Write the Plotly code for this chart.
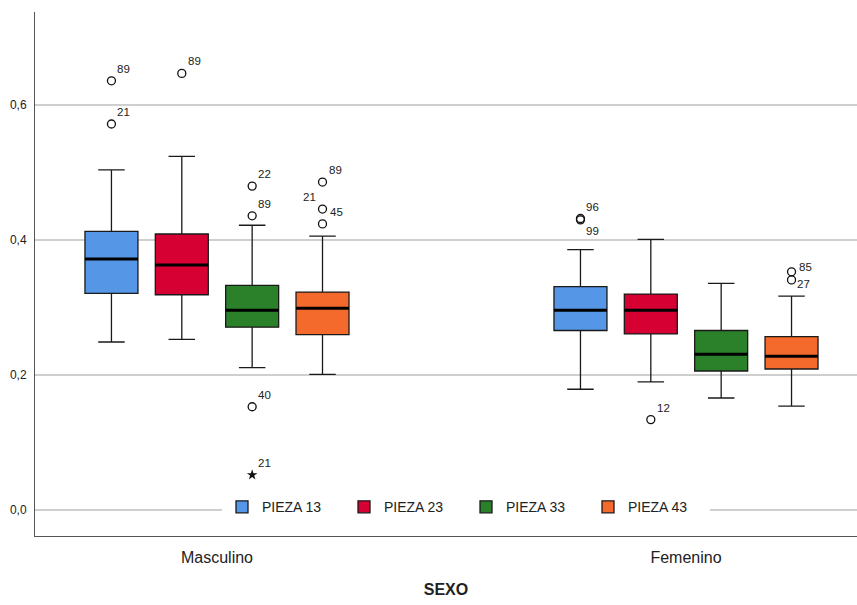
import plotly.graph_objects as go

categories = ["Masculino", "Femenino"]
series = ["PIEZA 13", "PIEZA 23", "PIEZA 33", "PIEZA 43"]
colors = ["#5596E6", "#D60032", "#2A812A", "#F46A2C"]

# statistics [series][category]
lower_whisker = [[0.249, 0.179], [0.253, 0.190], [0.211, 0.166], [0.201, 0.154]]
q1 = [[0.321, 0.266], [0.319, 0.261], [0.271, 0.206], [0.260, 0.209]]
median = [[0.372, 0.296], [0.363, 0.296], [0.296, 0.231], [0.299, 0.228]]
q3 = [[0.413, 0.331], [0.409, 0.320], [0.333, 0.266], [0.323, 0.257]]
upper_whisker = [[0.504, 0.386], [0.524, 0.401], [0.422, 0.336], [0.406, 0.317]]

# outliers (circles)
outlier_series = [0, 0, 1, 2, 2, 2, 3, 3, 3, 0, 0, 1, 3, 3]
outlier_cat = [0, 0, 0, 0, 0, 0, 0, 0, 0, 1, 1, 1, 1, 1]
outlier_val = [0.636, 0.572, 0.647, 0.480, 0.436, 0.153, 0.486, 0.446, 0.424,
               0.432, 0.430, 0.134, 0.353, 0.341]
# extreme values (stars)
extreme_series = [2]
extreme_cat = [0]
extreme_val = [0.052]

# case labels: anchored on the point they belong to
label_series = [0, 0, 1, 2, 2, 2, 2, 3, 3, 3, 0, 0, 1, 3, 3]
label_cat = [0, 0, 0, 0, 0, 0, 0, 0, 0, 0, 1, 1, 1, 1, 1]
label_val = [0.636, 0.572, 0.647, 0.480, 0.436, 0.153, 0.052, 0.486, 0.446, 0.446,
             0.431, 0.431, 0.134, 0.353, 0.341]
label_text = ["89", "21", "89", "22", "89", "40", "21", "89", "21", "45",
              "96", "99", "12", "85", "27"]
label_side = ["up", "up", "up", "up", "up", "up", "up", "up", "upleft", "right",
              "up", "down", "up", "rightup", "rightdown"]

yticks = [0.0, 0.2, 0.4, 0.6]

SLOT = 0.15
BOXW = 0.113
offsets = [(i - (len(series) - 1) / 2) * SLOT for i in range(len(series))]

FONT = "Liberation Sans, Arial, sans-serif"

# placement style of the case labels (pixels)
SIDE_STYLE = {
    "up": dict(xanchor="left", xshift=4, yshift=12),
    "down": dict(xanchor="left", xshift=4, yshift=-12),
    "upleft": dict(xanchor="right", xshift=-5, yshift=12),
    "right": dict(xanchor="left", xshift=5, yshift=-3),
    "rightup": dict(xanchor="left", xshift=5, yshift=5),
    "rightdown": dict(xanchor="left", xshift=3, yshift=-4),
}

fig = go.Figure()

for i, name in enumerate(series):
    xs = [c + offsets[i] for c in range(len(categories))]
    fig.add_trace(go.Box(
        name=name, x=xs,
        q1=q1[i], median=median[i], q3=q3[i],
        lowerfence=lower_whisker[i], upperfence=upper_whisker[i],
        width=BOXW, whiskerwidth=0.5,
        fillcolor=colors[i],
        line=dict(color="#1a1a1a", width=1.3),
        boxpoints=False, hoverinfo="skip",
    ))

# thick median lines
for i, name in enumerate(series):
    mx, my = [], []
    for c in range(len(categories)):
        xc = c + offsets[i]
        mx += [xc - BOXW / 2, xc + BOXW / 2, None]
        my += [median[i][c], median[i][c], None]
    fig.add_trace(go.Scatter(x=mx, y=my, mode="lines",
                             line=dict(color="black", width=3),
                             showlegend=False, hoverinfo="skip"))

fig.add_trace(go.Scatter(
    x=[c + offsets[s] for s, c in zip(outlier_series, outlier_cat)],
    y=outlier_val, mode="markers",
    marker=dict(symbol="circle-open", size=8, color="#111", line=dict(width=1.3)),
    showlegend=False, hoverinfo="skip"))

fig.add_trace(go.Scatter(
    x=[c + offsets[s] for s, c in zip(extreme_series, extreme_cat)],
    y=extreme_val, mode="markers",
    marker=dict(symbol="star", size=8, color="#111"),
    showlegend=False, hoverinfo="skip"))

for s, c, v, t, side in zip(label_series, label_cat, label_val, label_text, label_side):
    fig.add_annotation(x=c + offsets[s], y=v, xref="x", yref="y", text=t,
                       showarrow=False, yanchor="middle",
                       font=dict(family=FONT, size=11.5, color="#222"),
                       **SIDE_STYLE[side])

fig.update_layout(
    width=857, height=605,
    margin=dict(l=35, r=0, t=12, b=69),
    paper_bgcolor="white", plot_bgcolor="white",
    separators=",.",
    boxmode="overlay",
    font=dict(family=FONT, color="#222"),
    showlegend=True,
    legend=dict(orientation="h", x=0.2275, xanchor="left", y=0.055, yanchor="middle",
                bgcolor="white", font=dict(family=FONT, size=14, color="#222"),
                entrywidth=77, entrywidthmode="pixels", traceorder="normal"),
    xaxis=dict(range=[-0.388, 1.3646], tickvals=list(range(len(categories))),
               ticktext=categories, showgrid=False, zeroline=False,
               showline=True, linecolor="#555", linewidth=1,
               automargin=False, ticklabelstandoff=7,
               tickfont=dict(family=FONT, size=16, color="#222"),
               title=dict(text="<b>SEXO</b>", font=dict(family=FONT, size=16, color="#222"),
                          standoff=18)),
    yaxis=dict(range=[-0.0385, 0.738], tickvals=yticks, tickformat=".1f",
               showgrid=True, gridcolor="#cfcfcf", gridwidth=1.5, zeroline=False,
               showline=True, linecolor="#555", linewidth=1,
               automargin=False, ticklabelstandoff=5,
               tickfont=dict(family=FONT, size=12, color="#222")),
)

fig.write_html("out.html",
               config={"displayModeBar": False},
               post_script="document.body.style.margin='0px';"
                           "document.body.style.overflow='hidden';")
